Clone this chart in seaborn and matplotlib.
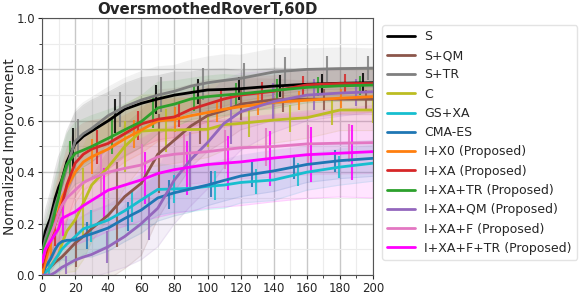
import numpy as np
import pandas as pd
import matplotlib
matplotlib.use("Agg")
import matplotlib.pyplot as plt
import seaborn as sns
from matplotlib.ticker import MultipleLocator

# ---------------- data ----------------
iters = [0, 2, 5, 8, 10, 12, 15, 20, 25, 30, 40, 50, 60, 70, 80, 90, 100, 110, 120, 140, 160, 180, 200]

methods = ["S", "S+QM", "S+TR", "C", "GS+XA", "CMA-ES", "I+X0 (Proposed)", "I+XA (Proposed)",
           "I+XA+TR (Proposed)", "I+XA+QM (Proposed)", "I+XA+F (Proposed)", "I+XA+F+TR (Proposed)"]

mean_S      = [0.10, 0.17, 0.22, 0.30, 0.34, 0.37, 0.44, 0.51, 0.54, 0.56, 0.60, 0.645, 0.668, 0.685, 0.70, 0.71, 0.72, 0.722, 0.725, 0.735, 0.742, 0.746, 0.748]
mean_S_QM   = [0.00, 0.01, 0.03, 0.05, 0.06, 0.07, 0.09, 0.124, 0.15, 0.18, 0.233, 0.305, 0.357, 0.47, 0.525, 0.58, 0.62, 0.64, 0.665, 0.682, 0.684, 0.684, 0.684]
mean_S_TR   = [0.08, 0.14, 0.20, 0.27, 0.31, 0.35, 0.42, 0.52, 0.55, 0.57, 0.62, 0.655, 0.681, 0.70, 0.715, 0.735, 0.748, 0.757, 0.765, 0.79, 0.80, 0.803, 0.805]
mean_C      = [0.00, 0.01, 0.03, 0.06, 0.08, 0.12, 0.17, 0.214, 0.28, 0.35, 0.42, 0.50, 0.56, 0.564, 0.564, 0.566, 0.567, 0.585, 0.59, 0.603, 0.612, 0.642, 0.642]
mean_GS_XA  = [0.00, 0.01, 0.03, 0.06, 0.08, 0.10, 0.12, 0.149, 0.18, 0.19, 0.214, 0.25, 0.292, 0.333, 0.335, 0.337, 0.345, 0.35, 0.36, 0.37, 0.40, 0.42, 0.435]
mean_CMAES  = [0.00, 0.03, 0.06, 0.10, 0.12, 0.13, 0.135, 0.136, 0.15, 0.16, 0.183, 0.22, 0.253, 0.30, 0.32, 0.335, 0.35, 0.368, 0.385, 0.405, 0.43, 0.445, 0.454]
mean_I_X0   = [0.00, 0.05, 0.12, 0.20, 0.25, 0.30, 0.34, 0.40, 0.44, 0.46, 0.49, 0.53, 0.564, 0.60, 0.605, 0.62, 0.632, 0.645, 0.655, 0.672, 0.68, 0.688, 0.694]
mean_I_XA   = [0.03, 0.08, 0.14, 0.20, 0.24, 0.27, 0.35, 0.435, 0.47, 0.49, 0.512, 0.55, 0.588, 0.606, 0.615, 0.645, 0.665, 0.685, 0.70, 0.715, 0.74, 0.745, 0.745]
mean_I_XA_TR = [0.08, 0.12, 0.17, 0.25, 0.30, 0.37, 0.43, 0.473, 0.486, 0.50, 0.532, 0.565, 0.597, 0.65, 0.665, 0.685, 0.694, 0.70, 0.705, 0.718, 0.73, 0.736, 0.739]
mean_I_XA_QM = [0.00, 0.00, 0.00, 0.01, 0.02, 0.03, 0.04, 0.058, 0.07, 0.08, 0.11, 0.15, 0.20, 0.26, 0.37, 0.45, 0.515, 0.59, 0.635, 0.675, 0.70, 0.708, 0.713]
mean_I_XA_F  = [0.05, 0.10, 0.15, 0.20, 0.24, 0.27, 0.30, 0.33, 0.36, 0.375, 0.40, 0.415, 0.428, 0.46, 0.47, 0.475, 0.48, 0.488, 0.495, 0.50, 0.51, 0.513, 0.515]
mean_I_XA_F_TR = [0.05, 0.10, 0.13, 0.16, 0.18, 0.22, 0.23, 0.246, 0.27, 0.29, 0.33, 0.35, 0.37, 0.395, 0.41, 0.42, 0.43, 0.435, 0.44, 0.455, 0.468, 0.474, 0.48]

sd_S      = [0.05, 0.08, 0.10, 0.11, 0.12, 0.12, 0.12, 0.12, 0.12, 0.12, 0.11, 0.10, 0.10, 0.09, 0.09, 0.08, 0.08, 0.08, 0.07, 0.07, 0.06, 0.06, 0.06]
sd_S_QM   = [0.02, 0.04, 0.06, 0.08, 0.09, 0.10, 0.12, 0.15, 0.18, 0.20, 0.25, 0.28, 0.28, 0.25, 0.20, 0.16, 0.14, 0.12, 0.10, 0.08, 0.07, 0.06, 0.06]
sd_S_TR   = [0.05, 0.08, 0.10, 0.11, 0.12, 0.12, 0.12, 0.12, 0.12, 0.12, 0.11, 0.11, 0.11, 0.11, 0.10, 0.10, 0.10, 0.10, 0.09, 0.09, 0.08, 0.08, 0.075]
sd_C      = [0.02, 0.04, 0.06, 0.10, 0.12, 0.14, 0.16, 0.20, 0.22, 0.22, 0.20, 0.16, 0.14, 0.14, 0.13, 0.12, 0.11, 0.10, 0.09, 0.09, 0.08, 0.08, 0.08]
sd_GS_XA  = [0.02, 0.03, 0.05, 0.06, 0.07, 0.08, 0.09, 0.10, 0.10, 0.10, 0.10, 0.10, 0.10, 0.10, 0.09, 0.09, 0.09, 0.09, 0.08, 0.08, 0.07, 0.07, 0.07]
sd_CMAES  = [0.02, 0.03, 0.05, 0.06, 0.07, 0.07, 0.08, 0.08, 0.08, 0.09, 0.09, 0.09, 0.09, 0.09, 0.09, 0.09, 0.08, 0.08, 0.08, 0.08, 0.07, 0.07, 0.07]
sd_I_X0   = [0.03, 0.06, 0.09, 0.11, 0.12, 0.12, 0.12, 0.12, 0.11, 0.11, 0.10, 0.09, 0.09, 0.08, 0.08, 0.07, 0.07, 0.07, 0.07, 0.06, 0.06, 0.06, 0.06]
sd_I_XA   = [0.03, 0.07, 0.10, 0.14, 0.15, 0.15, 0.14, 0.13, 0.12, 0.11, 0.10, 0.09, 0.09, 0.08, 0.08, 0.07, 0.07, 0.07, 0.07, 0.06, 0.06, 0.06, 0.06]
sd_I_XA_TR = [0.05, 0.08, 0.10, 0.12, 0.12, 0.12, 0.12, 0.12, 0.12, 0.12, 0.11, 0.10, 0.10, 0.10, 0.09, 0.08, 0.08, 0.08, 0.07, 0.07, 0.06, 0.06, 0.06]
sd_I_XA_QM = [0.00, 0.01, 0.02, 0.03, 0.04, 0.05, 0.06, 0.07, 0.08, 0.09, 0.10, 0.12, 0.14, 0.15, 0.17, 0.18, 0.18, 0.17, 0.15, 0.12, 0.10, 0.09, 0.08]
sd_I_XA_F  = [0.03, 0.06, 0.08, 0.10, 0.11, 0.12, 0.12, 0.13, 0.13, 0.13, 0.13, 0.13, 0.13, 0.13, 0.13, 0.12, 0.12, 0.12, 0.12, 0.12, 0.12, 0.12, 0.12]
sd_I_XA_F_TR = [0.03, 0.05, 0.07, 0.09, 0.10, 0.11, 0.12, 0.13, 0.14, 0.15, 0.16, 0.16, 0.16, 0.17, 0.17, 0.17, 0.17, 0.17, 0.17, 0.17, 0.17, 0.17, 0.18]

means = [mean_S, mean_S_QM, mean_S_TR, mean_C, mean_GS_XA, mean_CMAES, mean_I_X0, mean_I_XA,
         mean_I_XA_TR, mean_I_XA_QM, mean_I_XA_F, mean_I_XA_F_TR]
sds = [sd_S, sd_S_QM, sd_S_TR, sd_C, sd_GS_XA, sd_CMAES, sd_I_X0, sd_I_XA,
       sd_I_XA_TR, sd_I_XA_QM, sd_I_XA_F, sd_I_XA_F_TR]

# ---------------- style ----------------
colors = ["#000000", "#8c564b", "#7f7f7f", "#bcbd22", "#17becf", "#1f77b4", "#ff7f0e", "#d62728",
          "#2ca02c", "#9467bd", "#e377c2", "#ff00ff"]
bar_offsets = [19, 20.5, 22, 0, 4.5, 2, 5.5, 8, 17, 14.5, 10.5, 12.5]

sns.set_style("white")
plt.rcParams["font.family"] = ["DejaVu Sans"]

fig = plt.figure(figsize=(5.85, 2.94), dpi=100)
ax = fig.add_axes([42 / 585, 19 / 294, (373 - 42) / 585, (275 - 18) / 294])

rows = []
for m, mv in zip(methods, means):
    for x, v in zip(iters, mv):
        rows.append((m, x, v))
df = pd.DataFrame(rows, columns=["method", "iter", "value"])

X = np.array(iters, dtype=float)
for m, mv, sv, c in zip(methods, means, sds, colors):
    mv = np.array(mv)
    sv = np.array(sv)
    ax.fill_between(X, mv - sv, mv + sv, color=c, alpha=0.10, lw=0, zorder=1)
    ax.plot(X, mv + sv, color=c, alpha=0.10, lw=0.8, zorder=1)
    ax.plot(X, mv - sv, color=c, alpha=0.10, lw=0.8, zorder=1)

sns.lineplot(data=df, x="iter", y="value", hue="method", hue_order=methods,
             palette=dict(zip(methods, colors)), lw=2.0, ax=ax, zorder=3, legend=True)

for m, mv, sv, c, off in zip(methods, means, sds, colors, bar_offsets):
    pos = np.arange(off, 200.01, 25.0)
    pos = pos[pos > 0]
    mu = np.interp(pos, X, mv)
    hw = 0.62 * np.interp(pos, X, sv)
    ax.vlines(pos, mu - hw, mu + hw, color=c, lw=1.5, alpha=0.85, zorder=2)

ax.set_xlim(0, 200)
ax.set_ylim(0, 1.0)
ax.xaxis.set_major_locator(MultipleLocator(20))
ax.xaxis.set_minor_locator(MultipleLocator(10))
ax.yaxis.set_major_locator(MultipleLocator(0.2))
ax.yaxis.set_minor_locator(MultipleLocator(0.1))
ax.grid(which="major", color="#c8c8c8", lw=1.0, zorder=0)
ax.grid(which="minor", color="#ececec", lw=0.8, zorder=0)
ax.set_axisbelow(True)
ax.tick_params(axis="both", which="major", labelsize=8.5, length=3, width=0.8, pad=2,
               direction="out", left=True, bottom=True)
ax.tick_params(axis="both", which="minor", length=2, width=0.6, left=True, bottom=True)
ax.set_xlabel("")
ax.set_ylabel("Normalized Improvement", fontsize=10)
ax.yaxis.set_label_coords(-0.075, 0.5)
ax.set_title("OversmoothedRoverT,60D", fontsize=10.8, fontweight="bold", pad=3)
for s in ax.spines.values():
    s.set_color("#555555")
    s.set_linewidth(0.8)

handles, labels = ax.get_legend_handles_labels()
leg_h = []
leg_l = []
for h, l in zip(handles, labels):
    if l in methods:
        h.set_linewidth(2.0)
        leg_h.append(h)
        leg_l.append(l)
if ax.get_legend() is not None:
    ax.get_legend().remove()
fig.legend(leg_h, leg_l, loc="upper left", bbox_to_anchor=(382 / 585, 1 - 25 / 294),
           bbox_transform=fig.transFigure, fontsize=9, frameon=True, handlelength=2.2,
           borderaxespad=0, labelspacing=0.5, handletextpad=0.8, borderpad=0.4,
           edgecolor="#dddddd", fancybox=True)

fig.savefig("out.png", dpi=100)
